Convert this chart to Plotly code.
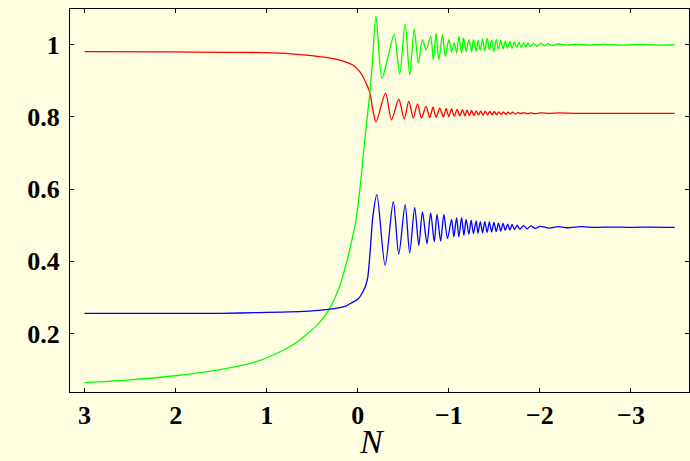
import plotly.graph_objects as go

# ---- data ----
green_N = [3.0, 2.54, 2.0, 1.63, 1.34, 1.08, 0.9, 0.71, 0.53, 0.42, 0.31, 0.2, 0.09, 0.02, -0.03,
           -0.074, -0.10, -0.13, -0.16, -0.20, -0.265, -0.33, -0.40, -0.46, -0.52, -0.57, -0.62,
           -0.665, -0.71, -0.75, -0.80, -0.83, -0.86, -0.89, -0.93, -0.96, -1.0, -1.03, -1.06,
           -1.085, -1.11, -1.14, -1.16, -1.19, -1.22, -1.25, -1.27, -1.30, -1.32, -1.345, -1.37,
           -1.395, -1.42, -1.445, -1.47, -1.495, -1.52, -1.545, -1.57, -1.595, -1.62, -1.645,
           -1.67, -1.695, -1.72, -1.745, -1.77, -1.795, -1.82, -1.845, -1.87, -1.895, -1.93,
           -1.97, -2.01, -2.05, -2.09, -2.13, -2.2, -2.3, -2.4, -2.55, -2.7, -2.9, -3.1, -3.3, -3.48]
green_v = [0.064, 0.071, 0.083, 0.095, 0.108, 0.125, 0.144, 0.169, 0.204, 0.231, 0.269, 0.33, 0.431,
           0.514, 0.616, 0.73, 0.79, 0.86, 0.95, 1.079, 0.907, 0.965, 1.028, 0.919, 1.058, 0.917,
           1.044, 0.949, 1.014, 0.986, 1.023, 0.958, 1.032, 0.958, 1.028, 0.968, 1.014, 0.981,
           1.005, 0.977, 1.023, 0.977, 1.019, 0.981, 1.014, 0.981, 1.014, 0.981, 1.012, 0.985,
           1.016, 0.983, 1.018, 0.986, 1.013, 0.981, 1.015, 0.987, 1.012, 0.989, 1.010, 0.991,
           1.009, 0.990, 1.008, 0.993, 1.007, 0.992, 1.006, 0.994, 1.005, 0.995, 1.004, 0.996,
           1.004, 0.997, 1.003, 0.998, 1.002, 0.999, 1.001, 0.999, 1.001, 0.999, 1.001, 0.999, 1.0]

red_N = [3.0, 2.0, 1.5, 1.0, 0.6, 0.3, 0.15, 0.05, -0.02, -0.06, -0.09, -0.13, -0.165, -0.20,
         -0.305, -0.37, -0.45, -0.51, -0.56, -0.61, -0.655, -0.70, -0.75, -0.79, -0.826, -0.86,
         -0.90, -0.94, -0.97, -1.0, -1.03, -1.06, -1.09, -1.12, -1.15, -1.175, -1.20, -1.225,
         -1.25, -1.275, -1.30, -1.325, -1.35, -1.375, -1.40, -1.425, -1.45, -1.475, -1.50,
         -1.525, -1.55, -1.575, -1.60, -1.625, -1.65, -1.675, -1.70, -1.73, -1.76, -1.79,
         -1.82, -1.86, -1.9, -1.95, -2.0, -2.1, -2.2, -2.4, -2.6, -2.9, -3.2, -3.48]
red_v = [0.981, 0.980, 0.979, 0.978, 0.972, 0.963, 0.954, 0.943, 0.926, 0.910, 0.894, 0.870, 0.820,
         0.786, 0.866, 0.792, 0.849, 0.794, 0.843, 0.797, 0.836, 0.797, 0.830, 0.798, 0.827, 0.799,
         0.824, 0.800, 0.823, 0.801, 0.822, 0.802, 0.821, 0.803, 0.820, 0.803, 0.819, 0.804, 0.818,
         0.804, 0.817, 0.805, 0.816, 0.805, 0.816, 0.806, 0.815, 0.806, 0.815, 0.806, 0.814, 0.807,
         0.814, 0.807, 0.813, 0.808, 0.813, 0.808, 0.812, 0.809, 0.812, 0.809, 0.811, 0.809, 0.811,
         0.810, 0.811, 0.810, 0.810, 0.810, 0.810, 0.810]

blue_N = [3.0, 2.0, 1.5, 1.08, 0.53, 0.35, 0.2, 0.13, 0.055, 0.0, -0.055, -0.09, -0.11, -0.137,
          -0.165, -0.21, -0.30, -0.39, -0.45, -0.52, -0.57, -0.625, -0.67, -0.71, -0.76, -0.80,
          -0.84, -0.87, -0.91, -0.945, -0.985, -1.03, -1.055, -1.085, -1.11, -1.14, -1.165,
          -1.19, -1.22, -1.245, -1.27, -1.30, -1.32, -1.345, -1.37, -1.395, -1.42, -1.445,
          -1.47, -1.495, -1.52, -1.545, -1.57, -1.595, -1.62, -1.645, -1.67, -1.695, -1.72,
          -1.75, -1.78, -1.82, -1.86, -1.90, -1.95, -2.0, -2.1, -2.2, -2.3, -2.45, -2.6, -2.8,
          -3.0, -3.2, -3.48]
blue_v = [0.256, 0.256, 0.256, 0.258, 0.262, 0.266, 0.272, 0.276, 0.287, 0.295, 0.315, 0.335,
          0.356, 0.431, 0.523, 0.585, 0.389, 0.565, 0.42, 0.557, 0.423, 0.549, 0.444, 0.537,
          0.449, 0.534, 0.454, 0.530, 0.456, 0.530, 0.463, 0.516, 0.468, 0.521, 0.468, 0.521,
          0.472, 0.516, 0.475, 0.514, 0.477, 0.512, 0.478, 0.510, 0.479, 0.510, 0.480, 0.509,
          0.481, 0.508, 0.482, 0.506, 0.484, 0.505, 0.486, 0.503, 0.487, 0.502, 0.488, 0.500,
          0.489, 0.499, 0.490, 0.498, 0.491, 0.497, 0.492, 0.496, 0.493, 0.496, 0.494, 0.495,
          0.494, 0.495, 0.494]

x_ticks = [3, 2, 1, 0, -1, -2, -3]
y_ticks = [0.2, 0.4, 0.6, 0.8, 1.0]
y_tick_labels = ["0.2", "0.4", "0.6", "0.8", "1"]
x_title = "N"

BG = "#FFFEE0"

fig = go.Figure()
for xs, ys, col in [(red_N, red_v, "#FF0000"), (green_N, green_v, "#00FF00"), (blue_N, blue_v, "#0000FF")]:
    fig.add_trace(go.Scatter(x=xs, y=ys, mode="lines",
                             line=dict(color=col, width=1.3, shape="spline", smoothing=0.8),
                             showlegend=False, hoverinfo="skip"))

tickfont = dict(family="Liberation Serif", size=26, color="black", weight="bold")
axis_common = dict(showline=True, linecolor="black", linewidth=1, mirror="ticks",
                   ticks="inside", ticklen=4, tickwidth=1, tickcolor="black",
                   showgrid=False, zeroline=False, tickfont=tickfont, automargin=False)

fig.update_layout(
    width=690, height=461,
    margin=dict(l=70, r=1, t=9, b=69),
    paper_bgcolor=BG, plot_bgcolor=BG,
    xaxis=dict(range=[3.16, -3.637], tickvals=x_ticks, ticklabelstandoff=0, **axis_common),
    yaxis=dict(range=[0.038, 1.099], tickvals=y_ticks, ticktext=y_tick_labels,
               ticklabelstandoff=4, **axis_common),
    annotations=[dict(text=x_title, xref="paper", yref="paper",
                      x=(372 - 70) / 619, y=-(441 - 392) / 383, xanchor="center", yanchor="middle",
                      showarrow=False,
                      font=dict(family="Liberation Serif", size=34, color="black", style="italic"))],
)

fig.write_html("out.html", config={"displayModeBar": False},
               post_script="document.body.style.margin='0';document.body.style.background='" + BG + "';")
